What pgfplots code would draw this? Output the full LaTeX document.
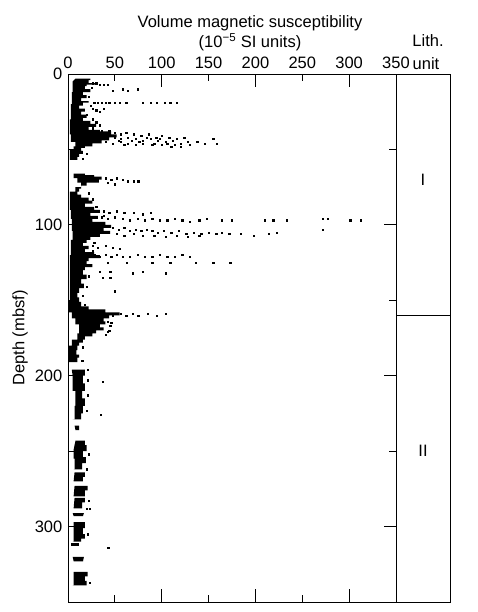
\documentclass[border=0pt]{standalone}
\usepackage{fontspec}
\setmainfont{Liberation Sans}
\usepackage{pgfplots}
\pgfplotsset{compat=1.18}
\begin{document}
\fontsize{16.5}{19}\selectfont
\begin{tikzpicture}[font=\fontsize{16.5}{19}\selectfont]
\path[use as bounding box] (0,0) rectangle (477pt,-612pt);
\begin{axis}[
  at={(68pt,-74pt)}, anchor=north west,
  scale only axis, width=328pt, height=528pt,
  xmin=0, xmax=350, ymin=0, ymax=350, y dir=reverse,
  xtick={0,50,...,350}, xticklabel pos=upper, xtick pos=both,
  ytick={0,50,...,350}, yticklabels={0,,100,,200,,300,}, ytick pos=both,
  extra x ticks={100,200,300}, extra x tick labels={},
  extra x tick style={major tick length=13pt},
  extra y ticks={100,200,300}, extra y tick labels={},
  extra y tick style={major tick length=12pt},
  major tick length=7pt, tick align=inside,
  axis line style={line width=0.8pt}, every tick/.style={black, line width=0.8pt},
  /pgf/number format/assume math mode=true,
  ylabel={Depth (mbsf)},
  ylabel style={at={(axis description cs:-0.146,0.5)}, anchor=center, rotate=0},
  clip=false,
]
% dense band, segment A
\addplot[const plot, fill=black, draw=none] coordinates {
(8,3) (14,3) (24,4) (22,6) (30,7) (20,8) (18,10) (24,12) (16,14) (20,16) (14,18) (22,19) (16,21) (12,23) (18,25) (14,27) (20,29) (16,31) (24,33) (30,35) (22,37) (34,38) (46,40) (52,42) (44,44) (36,46) (26,48) (18,49) (14,51) (16,53) (12,55) (10,57)
(3,57) (2,50) (6,48) (8,45) (3,40) (2,30) (3,20) (4,12) (5,5)};
% segment B
\addplot[const plot, fill=black, draw=none] coordinates {
(8,66) (18,67) (28,68) (36,70) (33,72) (20,74) (14,76) (12,78) (10,80) (14,82) (22,84) (26,86) (18,88) (28,90) (34,92) (24,94) (32,96) (26,98) (40,100) (46,102) (38,104) (45,106) (34,108) (24,110) (20,112) (16,114) (22,116) (18,118) (28,120) (34,122) (22,124) (20,126) (26,128) (18,130) (16,133) (20,136) (14,139) (17,142) (12,145) (10,148) (12,151) (14,154) (22,156) (40,158) (55,160) (44,162) (38,164) (40,166) (34,168) (38,170) (30,172) (26,174) (18,176) (16,178) (12,180) (10,183) (9,186) (12,188) (10,191)
(2,191) (1,186) (1,180) (4,176) (10,172) (12,166) (8,162) (4,158) (1,155) (1,150) (2,140) (2,130) (2,120) (3,110) (5,104) (4,96) (3,90) (2,84) (2,78) (8,75) (14,72) (10,69) (6,66)};
% segment C
\addplot[const plot, fill=black, draw=none] coordinates {
(4,196) (14,196) (18,200) (16,205) (18,210) (15,215) (18,220) (16,225) (14,229) (5,229) (7,220) (8,210) (5,200)};
\addplot[fill=black, draw=none] coordinates {(7,233) (12,233) (12,236) (8,236)};
% segment D blobs
\addplot[const plot, fill=black, draw=none] coordinates {(8,243) (14,243) (18,246) (20,250) (16,254) (19,258) (15,262) (6,262) (7,255) (6,249)};
\addplot[const plot, fill=black, draw=none] coordinates {(7,264) (16,264) (18,267) (16,270) (6,270)};
\addplot[const plot, fill=black, draw=none] coordinates {(7,273) (17,273) (21,276) (18,280) (6,280)};
\addplot[const plot, fill=black, draw=none] coordinates {(7,281) (16,281) (18,284) (15,288) (6,288)};
\addplot[fill=black, draw=none] coordinates {(5,291) (17,291) (16,293) (6,293)};
\addplot[const plot, fill=black, draw=none] coordinates {(6,297) (15,297) (18,301) (16,305) (18,308) (14,310) (5,310) (6,303)};
\addplot[fill=black, draw=none] coordinates {(3,311) (12,311) (12,313) (3,313)};
\addplot[fill=black, draw=none] coordinates {(5,320) (17,320) (16,323) (6,323)};
\addplot[const plot, fill=black, draw=none] coordinates {(6,330) (17,330) (21,333) (18,336) (20,339) (5,339) (6,334)};
% scattered points
\addplot[only marks, mark=square*, mark size=0.65pt, black] coordinates {
(26,6) (30,6) (34,7) (38,7) (42,7)
(48,11) (58,10) (64,11) (74,10)
(28,19) (32,19) (36,19) (40,19) (44,19) (50,19) (55,19) (62,19)
(80,19) (88,19) (95,19) (103,19) (109,19) (116,19)
(26,23) (30,24) (34,25) (38,23)
(26,30) (30,32) (34,34)
(36,38) (40,39) (44,38) (50,39) (56,40) (62,39) (70,40) (78,41) (86,40) (94,42) (100,41) (108,42) (116,43) (124,42)
(50,42) (56,43) (64,42) (72,43) (80,44) (88,43) (96,44) (104,45) (112,44) (120,46) (128,45) (138,45) (146,46) (155,43) (159,46)
(40,45) (48,46) (56,45) (64,46) (72,47) (80,46) (90,47) (100,47) (110,48) (120,48) (130,47)
(46,41) (54,44) (60,47) (68,44) (76,45) (84,42) (92,46) (98,43) (106,46) (114,47)
(40,69) (46,70) (52,69) (58,70) (64,71) (70,71) (75,71) (42,72) (50,73)
(38,91) (44,92) (52,91) (60,92) (70,92) (80,93) (88,92)
(36,95) (42,96) (50,95) (58,96) (66,97) (74,96) (82,97) (90,96) (98,97) (106,97) (114,96) (122,97) (130,98) (140,97) (148,96) (164,97) (175,97) (210,97) (219,97) (233,97) (272,96) (277,96) (301,97) (312,97)
(48,102) (54,103) (60,102) (66,104) (72,103) (78,104) (84,103) (90,104) (96,105) (102,104) (110,105) (118,104) (126,106) (134,105) (142,106) (150,105) (158,106) (164,105) (172,106) (184,106) (198,107) (214,106) (223,105) (272,103)
(52,106) (60,107) (70,106) (80,107) (92,107) (104,108) (116,107) (128,108) (140,107)
(26,114) (32,115) (40,114) (48,115) (55,116)
(28,120) (34,121) (40,120) (46,121) (52,120) (58,121) (66,121) (74,120) (82,121) (90,121) (98,120) (106,121) (114,121) (122,120) (130,121)
(42,125) (63,125) (90,125) (109,125) (136,125) (155,125) (173,125)
(34,131) (45,131) (69,132) (80,131) (104,132)
(37,135) (45,135) (50,144)
(30,159) (36,160) (42,159) (48,160) (56,159) (62,160) (69,159) (75,160) (85,159) (95,160) (104,159)
(42,164) (45,167) (44,170) (40,173)
(21,196) (37,204) (35,226) (20,288) (23,288) (43,314)
(25,9) (22,15) (24,21) (20,27) (26,36) (20,53) (16,56) (22,79) (26,83) (30,88) (38,94) (36,99) (28,112) (26,117) (24,127) (22,134) (20,141) (16,147) (18,153) (46,165) (42,171) (16,181) (15,190) (21,203) (21,213) (20,223) (22,252) (20,262) (22,283) (21,305) (23,337)
};
\end{axis}
\begin{axis}[
  at={(396pt,-74pt)}, anchor=north west,
  scale only axis, width=54pt, height=528pt,
  xmin=0, xmax=1, ymin=0, ymax=350, y dir=reverse,
  xtick=\empty, ytick=\empty,
  axis line style={line width=0.8pt},
  clip=false,
]
\addplot[black, line width=0.8pt] coordinates {(0,160) (1,160)};
\node at (axis cs:0.5,70) {I};
\node at (axis cs:0.5,250) {II};
\end{axis}
\node[anchor=base] at (250pt,-28pt) {Volume magnetic susceptibility};
\node[anchor=base] at (250pt,-48pt) {(10\textsuperscript{−5} SI units)};
\node[anchor=base] at (428pt,-47pt) {Lith.};
\node[anchor=base] at (426pt,-70pt) {unit};
\end{tikzpicture}
\end{document}
